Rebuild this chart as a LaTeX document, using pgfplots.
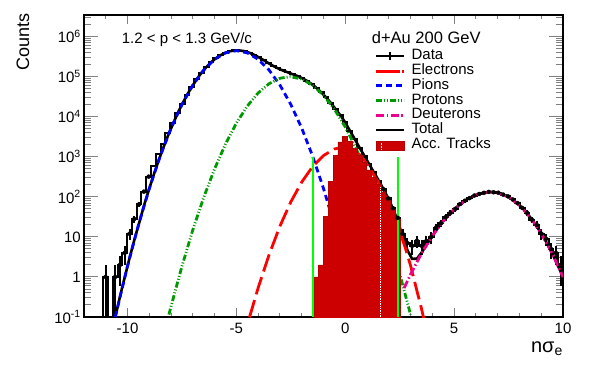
\documentclass[border=0pt]{standalone}
\usepackage{fontspec}
\setmainfont{Liberation Sans}
\usepackage{pgfplots}
\usepackage{pgfplotstable}
\pgfplotsset{compat=1.18}
\definecolor{accred}{RGB}{204,0,0}
\definecolor{accedge}{RGB}{180,0,0}
\definecolor{protgreen}{RGB}{0,153,0}
\definecolor{limeg}{RGB}{0,255,0}

% data histogram: left bin edges, counts (0.01 = empty bin)
\pgfplotstableread{
x y
-12.00 0.01
-11.78 0.01
-11.56 0.01
-11.34 0.01
-11.12 1
-10.90 0.01
-10.68 1
-10.46 2
-10.24 4
-10.02 12
-9.80 28
-9.58 65
-9.36 135
-9.14 320
-8.92 600
-8.70 1150
-8.48 2050
-8.26 3900
-8.04 7000
-7.82 12300
-7.60 21000
-7.38 35000
-7.16 56000
-6.94 85500
-6.72 124000
-6.50 171000
-6.28 228000
-6.06 286000
-5.84 344000
-5.62 394000
-5.40 432000
-5.18 452000
-4.96 450000
-4.74 433000
-4.52 397000
-4.30 352000
-4.08 305000
-3.86 260000
-3.64 218000
-3.42 186000
-3.20 161000
-2.98 143000
-2.76 129000
-2.54 116000
-2.32 104500
-2.10 92000
-1.88 79000
-1.66 66000
-1.44 53000
-1.22 41000
-1.00 30700
-0.78 22300
-0.56 15700
-0.34 10900
-0.12 7200
0.10 4400
0.32 2750
0.54 1700
0.76 1060
0.98 660
1.20 410
1.42 255
1.64 155
1.86 92
2.08 52
2.30 30
2.52 12
2.74 7
2.96 6
3.18 8
3.40 6
3.62 8
3.84 10
4.06 17
4.28 22
4.50 31
4.72 40
4.94 50
5.16 66
5.38 80
5.60 93
5.82 108
6.04 118
6.26 126
6.48 133
6.70 130
6.92 127
7.14 114
7.36 103
7.58 86
7.80 70
8.02 53
8.24 40
8.46 27
8.68 20
8.90 12
9.12 9
9.34 5
9.56 4
9.78 2
10.00 2
}\datahist

% error bars at bin centres
\pgfplotstableread{
x y ep em
-11.01 1 1 0.99
-10.57 1 1 0.99
-10.35 2 1.41 1.41
-10.13 4 2 2
-9.91 12 3.5 3.5
-9.69 28 5.3 5.3
-9.47 65 8 8
-9.25 135 11.6 11.6
-9.03 320 18 18
1.75 155 12.4 12.4
1.97 92 9.6 9.6
2.19 52 7.2 7.2
2.41 30 5.5 5.5
2.63 12 3.5 3.5
2.85 7 2.6 2.6
3.07 6 2.4 2.4
3.29 8 2.8 2.8
3.51 6 2.4 2.4
3.73 8 2.8 2.8
3.95 10 3.2 3.2
4.17 17 4.1 4.1
4.39 22 4.7 4.7
4.61 31 5.6 5.6
4.83 40 6.3 6.3
5.05 50 7.1 7.1
5.27 66 8.1 8.1
5.49 80 8.9 8.9
5.71 93 9.6 9.6
5.93 108 10.4 10.4
6.15 118 10.9 10.9
6.37 126 11.2 11.2
6.59 133 11.5 11.5
6.81 130 11.4 11.4
7.03 127 11.3 11.3
7.25 114 10.7 10.7
7.47 103 10.1 10.1
7.69 86 9.3 9.3
7.91 70 8.4 8.4
8.13 53 7.3 7.3
8.35 40 6.3 6.3
8.57 27 5.2 5.2
8.79 20 4.5 4.5
9.01 12 3.5 3.5
9.23 9 3 3
9.45 5 2.2 2.2
9.67 4 2 2
9.89 2 1.4 1.4
}\dataerr

% total fit
\pgfplotstableread{
x y
-10.57 0.095
-10.35 0.32
-10.13 0.98
-9.91 2.95
-9.69 8.3
-9.47 22
-9.25 59
-9.03 144
-8.81 338
-8.59 760
-8.37 1620
-8.15 3290
-7.93 6310
-7.71 11800
-7.49 20700
-7.27 34800
-7.05 55700
-6.83 85100
-6.61 123900
-6.39 172000
-6.17 227000
-5.95 287000
-5.73 344000
-5.51 395000
-5.29 432000
-5.07 452000
-4.85 451000
-4.63 433000
-4.41 397000
-4.19 353000
-3.97 305000
-3.75 259000
-3.53 218000
-3.31 186000
-3.09 161000
-2.87 143000
-2.65 129000
-2.43 116000
-2.21 104700
-1.99 92200
-1.77 79300
-1.55 65900
-1.33 52900
-1.11 41000
-0.89 30700
-0.67 22300
-0.45 15700
-0.23 10900
-0.01 7300
0.21 4500
0.43 2800
0.65 1720
0.87 1070
1.09 665
1.31 415
1.53 258
1.75 157
1.97 93
2.19 51
2.41 25
2.63 10.3
2.85 4.7
3.07 2.83
3.29 2.86
3.51 4.08
3.73 6.3
3.95 9.7
4.17 14.5
4.39 20.9
4.61 29.2
4.83 39.4
5.05 51.5
5.27 65
5.49 79.5
5.71 94
5.93 107
6.15 119
6.37 127
6.59 131
6.81 131
7.03 126
7.25 115
7.47 101
7.69 85
7.91 68.4
8.13 52.6
8.35 38.8
8.57 27.4
8.79 18.5
9.01 12.0
9.23 7.45
9.45 4.42
9.67 2.51
9.89 1.36
10.00 1.0
}\totalfit

\begin{document}
\begin{tikzpicture}
\useasboundingbox (0,0) rectangle (600bp,365bp);
\begin{axis}[
  at={(84bp,48bp)}, anchor=south west,
  scale only axis, width=479bp, height=302bp,
  ymode=log, xmin=-12, xmax=10, ymin=0.1, ymax=3.47e6,
  axis line style={line width=1.3bp},
  tick align=inside,
  xtick={-10,-5,0,5,10},
  xticklabels={-10,-5,0,5,10},
  minor xtick={-12,-11,-9,-8,-7,-6,-4,-3,-2,-1,1,2,3,4,6,7,8,9},
  ytick={0.1,1,10,100,1000,10000,100000,1000000},
  yticklabels={10\textsuperscript{-1},1,10,10\textsuperscript{2},10\textsuperscript{3},10\textsuperscript{4},10\textsuperscript{5},10\textsuperscript{6}},
  minor ytick={0.2,0.3,0.4,0.5,0.6,0.7,0.8,0.9,2,3,4,5,6,7,8,9,20,30,40,50,60,70,80,90,200,300,400,500,600,700,800,900,2e3,3e3,4e3,5e3,6e3,7e3,8e3,9e3,2e4,3e4,4e4,5e4,6e4,7e4,8e4,9e4,2e5,3e5,4e5,5e5,6e5,7e5,8e5,9e5,2e6,3e6},
  xtick style={line width=1bp, /pgfplots/major tick length=9bp, /pgfplots/minor tick length=4.5bp},
  ytick style={line width=1bp, /pgfplots/major tick length=14bp, /pgfplots/minor tick length=7bp},
  tick label style={font=\fontsize{15bp}{18bp}\selectfont, inner sep=0pt},
  xticklabel style={yshift=-6bp},
  yticklabel style={xshift=-3bp},
  xlabel={nσ\textsubscript{e}},
  ylabel={Counts},
  label style={inner sep=0pt},
  xlabel style={font=\fontsize{20bp}{24bp}\selectfont, at={(axis description cs:1,-0.1175)}, anchor=base east},
  ylabel style={font=\fontsize{18bp}{22bp}\selectfont, at={(axis description cs:-0.1148,1.0056)}, anchor=base east},
  legend style={at={(axis description cs:0.6075,0.8871)}, anchor=north west,
    draw=none, fill=none, inner sep=0pt, outer sep=0pt, row sep=0pt, column sep=0pt,
    font=\fontsize{15bp}{18bp}\selectfont,
    nodes={inner sep=0pt, outer sep=0pt, text height=10.9bp, text depth=3.8bp}},
  legend cell align=left,
]
% legend
\addlegendimage{legend image code/.code={
  \draw[black,line width=2bp] (0bp,0bp)--(28bp,0bp);
  \draw[black,line width=2bp] (14bp,-4bp)--(14bp,4bp);
  \path (0bp,0bp) (35bp,0bp);}}
\addlegendentry{Data}
\addlegendimage{legend image code/.code={
  \draw[red,line width=2.8bp,dash pattern=on 24bp off 2bp] (0bp,0bp)--(28bp,0bp);
  \path (0bp,0bp) (35bp,0bp);}}
\addlegendentry{Electrons}
\addlegendimage{legend image code/.code={
  \draw[blue,line width=2.8bp,dash pattern=on 6bp off 4bp] (0bp,0bp)--(28bp,0bp);
  \path (0bp,0bp) (35bp,0bp);}}
\addlegendentry{Pions}
\addlegendimage{legend image code/.code={
  \draw[protgreen,line width=2.8bp,dash pattern=on 6bp off 2bp on 1bp off 2bp on 1bp off 2bp] (0bp,0bp)--(28bp,0bp);
  \path (0bp,0bp) (35bp,0bp);}}
\addlegendentry{Protons}
\addlegendimage{legend image code/.code={
  \draw[magenta,line width=2.8bp,dash pattern=on 8bp off 2.5bp on 1.5bp off 2.5bp] (0bp,0bp)--(28bp,0bp);
  \path (0bp,0bp) (35bp,0bp);}}
\addlegendentry{Deuterons}
\addlegendimage{legend image code/.code={
  \draw[black,line width=2.8bp] (0bp,0bp)--(28bp,0bp);
  \path (0bp,0bp) (35bp,0bp);}}
\addlegendentry{Total}
\addlegendimage{legend image code/.code={
  \draw[fill=accred,draw=accedge,line width=0.6bp] (0bp,-5.2bp) rectangle (28bp,3bp);
  \draw[white,line width=0.6bp,densely dotted] (5bp,-5bp)--(5bp,2.8bp);
  \path (0bp,0bp) (35bp,0bp);}}
\addlegendentry{Acc. Tracks}

% data histogram
\addplot[forget plot, black, line width=2bp, const plot mark left] table[x=x,y=y] {\datahist};
\addplot[forget plot, black, only marks, mark=none,
  error bars/.cd, y dir=both, y explicit, error mark=none,
  error bar style={line width=2bp, black}]
  table[x=x, y=y, y error plus=ep, y error minus=em] {\dataerr};

% total fit
\addplot[forget plot, black, line width=2.6bp] table[x=x,y=y] {\totalfit};

% electrons
\addplot[forget plot, red, line width=2.8bp, dash pattern=on 18bp off 6bp] coordinates {
(-4.4,0.098) (-4.0,0.537) (-3.5,3.59) (-3.0,18.6) (-2.5,75) (-2.0,234) (-1.5,569)
(-1.0,1072) (-0.5,1567) (0.0,1778) (0.5,1350) (0.76,1000) (1.0,640) (1.2,440)
(1.5,240) (2.0,70) (2.3,28) (2.5,14) (2.75,5.5) (3.0,1.91) (3.25,0.55) (3.5,0.162) (3.6,0.093)};

% pions
\addplot[forget plot, blue, line width=2.8bp, dash pattern=on 6bp off 4bp] coordinates {
(-10.56,0.1) (-10.5,0.14) (-10.0,1.88) (-9.5,19.8) (-9.0,162) (-8.5,1038) (-8.0,5190)
(-7.5,20200) (-7.0,61700) (-6.5,146600) (-6.0,272000) (-5.5,394000) (-5.0,447000)
(-4.5,394000) (-4.0,272000) (-3.5,146600) (-3.0,61700) (-2.5,20200) (-2.0,5190)
(-1.5,1038) (-1.0,162) (-0.5,19.8) (0.0,1.88) (0.5,0.14)};

% protons
\addplot[forget plot, protgreen, line width=2.8bp, dash pattern=on 6bp off 2bp on 1bp off 2bp on 1bp off 2bp] coordinates {
(-8.1,0.115) (-8.0,0.186) (-7.5,1.86) (-7.0,15.1) (-6.5,97.7) (-6.0,501) (-5.5,2090)
(-5.0,6950) (-4.5,18500) (-4.0,39300) (-3.5,67000) (-3.0,91400) (-2.55,100000)
(-2.0,87500) (-1.5,61300) (-1.0,34400) (-0.5,15450) (0.0,5560) (0.5,1600) (1.0,370)
(1.5,68.2) (2.0,10.1) (2.5,1.2) (3.0,0.114)};

% deuterons
\addplot[forget plot, magenta, line width=2.8bp, dash pattern=on 8bp off 2.5bp on 1.5bp off 2.5bp] coordinates {
(2.7,0.525) (3.0,1.17) (3.5,3.84) (4.0,10.6) (4.5,24.8) (5.0,48.6) (5.5,80.2) (6.0,111.3)
(6.5,130) (6.7,131.8) (7.0,126.6) (7.5,98.9) (8.0,61.7) (8.5,30.8) (9.0,12.3) (9.5,3.9) (10.0,1.0)};

% accepted tracks
\addplot[forget plot, fill=accred, draw=accedge, line width=0.6bp, const plot mark left] coordinates {
(-1.44,0.01) (-1.44,1) (-1.22,2) (-1.00,32) (-0.78,240) (-0.56,1100) (-0.34,2350)
(-0.12,3300) (0.10,2400) (0.32,1650) (0.54,1100) (0.76,720) (0.98,470) (1.20,300)
(1.42,200) (1.64,130) (1.86,82) (2.08,48) (2.30,27) (2.52,0.01)};
\addplot[forget plot, white, line width=0.7bp, densely dotted] coordinates {(1.6,0.1) (1.6,178)};

% cut lines
\addplot[forget plot, limeg, line width=2bp] coordinates {(-1.5,0.1) (-1.5,1000)};
\addplot[forget plot, limeg, line width=2bp] coordinates {(2.42,0.1) (2.42,1000)};

\node[anchor=base west, inner sep=0pt, font=\fontsize{15bp}{18bp}\selectfont] at (axis description cs:0.0787,0.904) {1.2 < p < 1.3 GeV/c};
\node[anchor=base west, inner sep=0pt, font=\fontsize{16.5bp}{20bp}\selectfont] at (axis description cs:0.6006,0.906) {d+Au 200 GeV};
\end{axis}
\end{tikzpicture}
\end{document}
